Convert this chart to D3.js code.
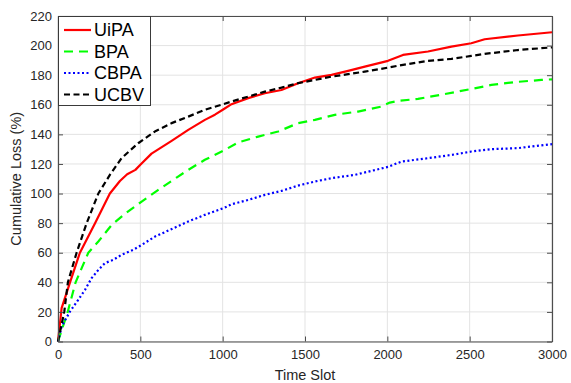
<!DOCTYPE html>
<html>
<head>
<meta charset="utf-8">
<script src="https://cdn.jsdelivr.net/npm/d3@7"></script>
<style>
  html, body { margin: 0; padding: 0; background: #fff; }
  svg { display: block; font-family: "Liberation Sans", Arial, sans-serif; }
</style>
</head>
<body>
<svg id="chart" width="571" height="383"></svg>
<script>
// ---- data ----
const xTicks = [0, 500, 1000, 1500, 2000, 2500, 3000];
const yTicks = [0, 20, 40, 60, 80, 100, 120, 140, 160, 180, 200, 220];

const uipaX = [0, 22, 73, 133, 225, 315, 376, 420, 470, 500, 568, 690, 791, 892, 953, 1003, 1054, 1155, 1256, 1357, 1458, 1560, 1661, 1762, 1863, 2004, 2095, 2247, 2389, 2510, 2591, 2793, 3000];
const uipaY = [0, 22.6, 40, 60, 80, 100, 108.5, 113, 116, 119.5, 127, 135.6, 143, 149.8, 153.3, 156.8, 160.4, 164.5, 167.8, 170, 174.6, 178.4, 180.2, 182.9, 185.8, 189.7, 193.7, 196, 199.3, 201.6, 204.3, 206.8, 209];

const bpaX = [0, 59, 107, 184, 245, 326, 411, 508, 609, 720, 791, 892, 1003, 1094, 1216, 1337, 1458, 1560, 1681, 1822, 1964, 2015, 2065, 2186, 2287, 2409, 2510, 2632, 2773, 2935, 3000];
const bpaY = [0, 20, 40, 60, 67.6, 78.8, 86.7, 94.6, 102.5, 110.8, 116, 122.8, 128.9, 134.5, 138.5, 141.9, 147.6, 149.8, 153.2, 155.4, 158.8, 161.5, 162.6, 164, 166, 168.5, 170.7, 173.4, 175.3, 176.8, 177.2];

const cbpaX = [0, 22, 73, 123, 164, 204, 245, 285, 336, 386, 457, 508, 589, 680, 791, 892, 1013, 1054, 1155, 1256, 1357, 1458, 1560, 1661, 1802, 2004, 2085, 2247, 2389, 2510, 2632, 2793, 3000];
const cbpaY = [0, 10.1, 20.3, 28.2, 34.9, 42.8, 48.4, 53, 55.2, 58.6, 62, 65.3, 70.9, 75.5, 81.1, 85.6, 90.5, 92.8, 95.7, 99.1, 101.8, 105.4, 108.1, 110.4, 112.6, 118, 121.6, 123.9, 126.1, 128.4, 130, 130.7, 133.4];

const ucbvX = [0, 38, 60, 113, 174, 245, 315, 386, 487, 588, 690, 791, 892, 993, 1054, 1155, 1256, 1357, 1458, 1560, 1661, 1762, 1863, 2004, 2095, 2247, 2389, 2510, 2591, 2793, 3000];
const ucbvY = [0, 20, 40, 60, 80, 100, 112.6, 123.9, 134, 141.9, 147.6, 152, 156.6, 160, 162.2, 165.5, 168.9, 171.6, 174.6, 176.8, 179, 180.7, 182.4, 185.1, 187, 189.7, 191, 193, 194.4, 197, 198.8];

const seriesNames = ["UiPA", "BPA", "CBPA", "UCBV"];
const seriesX = [uipaX, bpaX, cbpaX, ucbvX];
const seriesY = [uipaY, bpaY, cbpaY, ucbvY];
const seriesColors = ["#ff0000", "#00ff00", "#0000ff", "#000000"];
const seriesDash = [null, "9,6", "2,2.5", "6,3.5"];

const xLabel = "Time Slot";
const yLabel = "Cumulative Loss (%)";

// ---- layout ----
const W = 571, H = 383;
const m = { left: 58, right: 19, top: 16, bottom: 41.5 };
const pw = W - m.left - m.right, ph = H - m.top - m.bottom;

const svg = d3.select("#chart");
const x = d3.scaleLinear().domain([0, 3000]).range([m.left, m.left + pw]);
const y = d3.scaleLinear().domain([0, 220]).range([m.top + ph, m.top]);

// grid
const grid = svg.append("g");
grid.selectAll("line.gx").data(xTicks).join("line")
  .attr("x1", d => x(d)).attr("x2", d => x(d))
  .attr("y1", m.top).attr("y2", m.top + ph)
  .attr("stroke", "#e3e3e3").attr("stroke-width", 1);
grid.selectAll("line.gy").data(yTicks).join("line")
  .attr("x1", m.left).attr("x2", m.left + pw)
  .attr("y1", d => y(d)).attr("y2", d => y(d))
  .attr("stroke", "#e3e3e3").attr("stroke-width", 1);

// series
const line = d3.line().x(d => x(d[0])).y(d => y(d[1]));
const plot = svg.append("g");
seriesNames.forEach((name, i) => {
  const pts = seriesX[i].map((v, j) => [v, seriesY[i][j]]);
  plot.append("path").datum(pts)
    .attr("d", line)
    .attr("fill", "none")
    .attr("stroke", seriesColors[i])
    .attr("stroke-width", 2.2)
    .attr("stroke-dasharray", seriesDash[i])
    .attr("stroke-linejoin", "round");
});

// axes
const axColor = "#4d4d4d";
const tickLen = 5;
const fmt = d3.format("d");
const axB = svg.append("g").attr("transform", `translate(0,${m.top + ph})`)
  .call(d3.axisBottom(x).tickValues(xTicks).tickFormat(fmt).tickSizeInner(-tickLen).tickSizeOuter(0).tickPadding(8));
const axT = svg.append("g").attr("transform", `translate(0,${m.top})`)
  .call(d3.axisTop(x).tickValues(xTicks).tickSizeInner(-tickLen).tickSizeOuter(0).tickFormat(""));
const axL = svg.append("g").attr("transform", `translate(${m.left},0)`)
  .call(d3.axisLeft(y).tickValues(yTicks).tickFormat(fmt).tickSizeInner(-tickLen).tickSizeOuter(0).tickPadding(6));
const axR = svg.append("g").attr("transform", `translate(${m.left + pw},0)`)
  .call(d3.axisRight(y).tickValues(yTicks).tickSizeInner(-tickLen).tickSizeOuter(0).tickFormat(""));
[axB, axT, axL, axR].forEach(a => {
  a.select(".domain").attr("stroke", axColor).attr("stroke-width", 1.2);
  a.selectAll(".tick line").attr("stroke", axColor);
  a.selectAll("text").attr("fill", "#262626").style("font-size", "13px")
    .style("font-family", '"Liberation Sans", Arial, sans-serif');
});
axB.selectAll(".tick text").attr("dy", "0.71em");

// axis labels
svg.append("text").attr("x", m.left + pw / 2).attr("y", 380)
  .attr("text-anchor", "middle").attr("fill", "#262626")
  .style("font-size", "14.5px").text(xLabel);
svg.append("text")
  .attr("transform", `translate(21,${m.top + ph / 2}) rotate(-90)`)
  .attr("text-anchor", "middle").attr("fill", "#262626")
  .style("font-size", "14.5px").text(yLabel);

// legend
const lg = svg.append("g");
lg.append("rect").attr("x", m.left + 0.5).attr("y", m.top + 0.5)
  .attr("width", 92).attr("height", 89)
  .attr("fill", "#fff").attr("stroke", "#3a3a3a").attr("stroke-width", 1);
seriesNames.forEach((name, i) => {
  const cy = 30 + i * 21.5;
  lg.append("line").attr("x1", 64).attr("x2", 91).attr("y1", cy).attr("y2", cy)
    .attr("stroke", seriesColors[i]).attr("stroke-width", 2.2)
    .attr("stroke-dasharray", seriesDash[i]);
  lg.append("text").attr("x", 94).attr("y", cy).attr("dy", "0.36em")
    .attr("fill", "#000").style("font-size", "18px").text(name);
});
</script>
</body>
</html>
